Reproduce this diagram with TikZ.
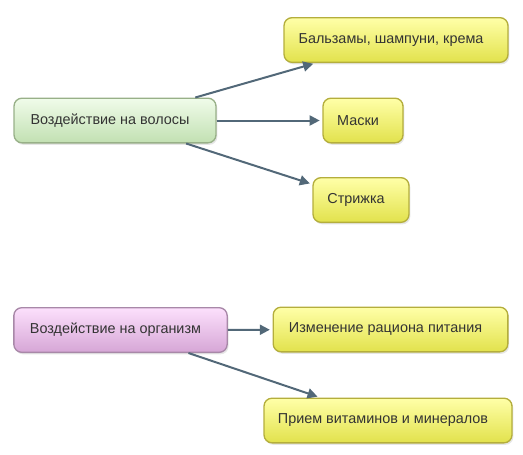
\documentclass[tikz,border=0pt]{standalone}
\usepackage{fontspec}
\setmainfont{Liberation Sans}
\usetikzlibrary{arrows.meta, shadows}

\definecolor{linkgray}{HTML}{526878}
\definecolor{yellowtop}{HTML}{FFFFA8}
\definecolor{yellowmid}{HTML}{FFFF6A}
\definecolor{yellowbot}{HTML}{E2E24C}
\definecolor{yellowline}{HTML}{B4AE3C}
\definecolor{greentop}{HTML}{F0FCEA}
\definecolor{greenmid}{HTML}{DDF4D0}
\definecolor{greenbot}{HTML}{C2E0B2}
\definecolor{greenline}{HTML}{98B088}
\definecolor{pinktop}{HTML}{FCE0FC}
\definecolor{pinkmid}{HTML}{F2C8F2}
\definecolor{pinkbot}{HTML}{D6A6D6}
\definecolor{pinkline}{HTML}{A888A8}

\tikzset{
  box/.style={rounded corners=6pt, line width=1pt, minimum height=33.5pt,
    inner sep=0pt, text=black!80, font=\fontsize{10.8}{13}\selectfont,
    execute at end node={\hspace*{7.5pt}},
    drop shadow={shadow xshift=1pt, shadow yshift=-1.5pt, opacity=0.2}},
  yellowbox/.style={box, draw=yellowline, top color=yellowtop, middle color=yellowmid, bottom color=yellowbot},
  greenbox/.style={box, draw=greenline, top color=greentop, middle color=greenmid, bottom color=greenbot},
  pinkbox/.style={box, draw=pinkline, top color=pinktop, middle color=pinkmid, bottom color=pinkbot},
  link/.style={-{Triangle[length=7.5pt, width=7.5pt]}, draw=linkgray, fill=linkgray,
    line width=1.5pt, shorten >=2pt}
}

\begin{document}
\begin{tikzpicture}[x=0.75pt, y=-0.75pt]

        \useasboundingbox (0,0) rectangle (523,454);

        % hair group
        \node[greenbox, minimum width=151.5pt] (Hair) at (115,120.5) {Воздействие на волосы};
        \node[yellowbox, minimum width=168pt] (Balms) at (396,40) {Бальзамы, шампуни, крема};
        \node[yellowbox, minimum width=60pt] (Masks) at (363,120.5) {Маски};
        \node[yellowbox, minimum width=72pt] (Haircut) at (361,200) {Стрижка};

        % body group
        \node[pinkbox, minimum width=160pt] (Body) at (120.5,330) {Воздействие на организм};
        \node[yellowbox, minimum width=176pt] (Diet) at (390.5,329.5) {Изменение рациона питания};
        \node[yellowbox, minimum width=186pt] (Vitamins) at (388,420.5) {Прием витаминов и минералов};

        \draw[link] (Hair) -- (Balms);
        \draw[link] (Hair) -- (Masks);
        \draw[link] (Hair) -- (Haircut);

        \draw[link] (Body) -- (Diet);
        \draw[link] (Body) -- (Vitamins);

\end{tikzpicture}
\end{document}
